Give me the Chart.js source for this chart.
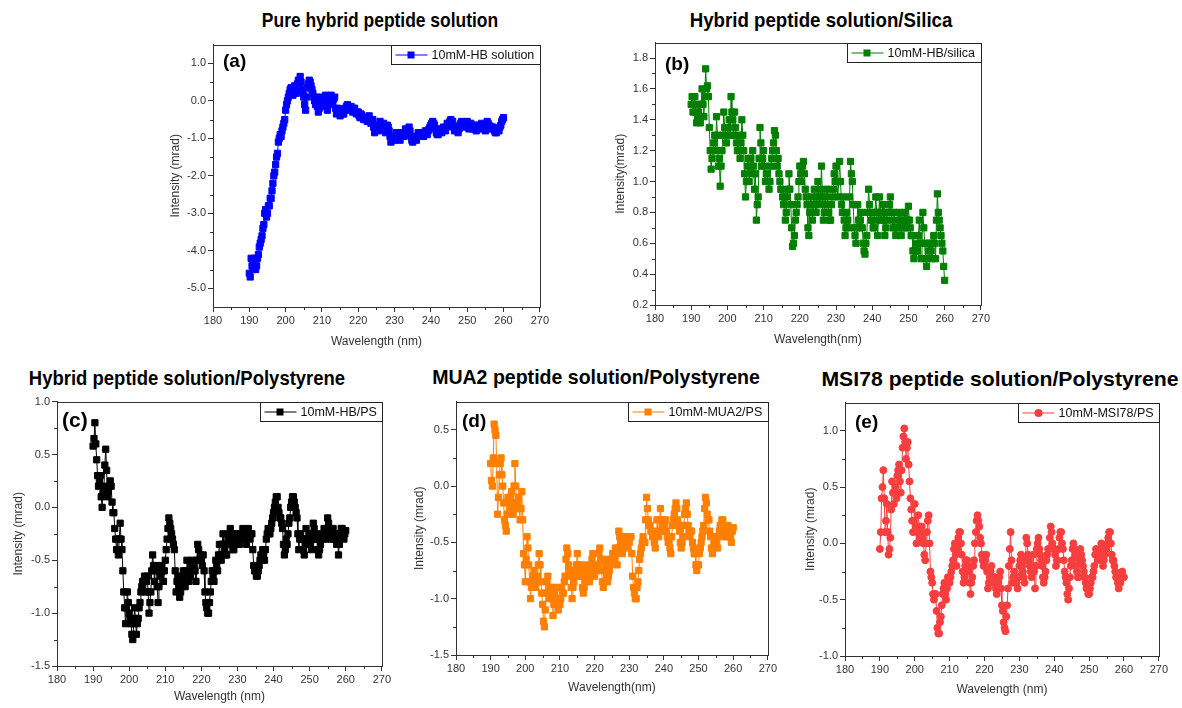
<!DOCTYPE html>
<html>
<head>
<meta charset="utf-8">
<script src="https://cdn.jsdelivr.net/npm/chart.js@4.4.1/dist/chart.umd.min.js"></script>
<style>
  html, body { margin: 0; padding: 0; background: #fff; }
  body { width: 1182px; height: 708px; position: relative; overflow: hidden; }
  .title { position: absolute; font-family: "Liberation Sans", Arial, sans-serif; font-weight: bold; font-size: 21px; white-space: nowrap; color: #000; }
  canvas { position: absolute; }
</style>
</head>
<body>
<div class="title" style="left:380px;top:20px;transform:translate(-50%,-50%) scaleX(0.83)">Pure hybrid peptide solution</div>
<div class="title" style="left:821px;top:20px;transform:translate(-50%,-50%) scaleX(0.89)">Hybrid peptide solution/Silica</div>
<div class="title" style="left:187px;top:378px;transform:translate(-50%,-50%) scaleX(0.88)">Hybrid peptide solution/Polystyrene</div>
<div class="title" style="left:596px;top:377px;transform:translate(-50%,-50%) scaleX(0.93)">MUA2 peptide solution/Polystyrene</div>
<div class="title" style="left:1000px;top:379px;transform:translate(-50%,-50%) scaleX(1.01)">MSI78 peptide solution/Polystyrene</div>

<canvas id="chA" width="383" height="313" style="left:168px;top:36px"></canvas>
<canvas id="chB" width="379" height="313" style="left:613px;top:34px"></canvas>
<canvas id="chC" width="382" height="311" style="left:11px;top:393px"></canvas>
<canvas id="chD" width="367" height="302" style="left:412px;top:393px"></canvas>
<canvas id="chE" width="367" height="303" style="left:803px;top:394px"></canvas>

<script>
// Longitudes de onda (nm), cada 0.25 nm
const wavelengths = [
  190, 190.25, 190.5, 190.75, 191, 191.25, 191.5, 191.75,
  192, 192.25, 192.5, 192.75, 193, 193.25, 193.5, 193.75,
  194, 194.25, 194.5, 194.75, 195, 195.25, 195.5, 195.75,
  196, 196.25, 196.5, 196.75, 197, 197.25, 197.5, 197.75,
  198, 198.25, 198.5, 198.75, 199, 199.25, 199.5, 199.75,
  200, 200.25, 200.5, 200.75, 201, 201.25, 201.5, 201.75,
  202, 202.25, 202.5, 202.75, 203, 203.25, 203.5, 203.75,
  204, 204.25, 204.5, 204.75, 205, 205.25, 205.5, 205.75,
  206, 206.25, 206.5, 206.75, 207, 207.25, 207.5, 207.75,
  208, 208.25, 208.5, 208.75, 209, 209.25, 209.5, 209.75,
  210, 210.25, 210.5, 210.75, 211, 211.25, 211.5, 211.75,
  212, 212.25, 212.5, 212.75, 213, 213.25, 213.5, 213.75,
  214, 214.25, 214.5, 214.75, 215, 215.25, 215.5, 215.75,
  216, 216.25, 216.5, 216.75, 217, 217.25, 217.5, 217.75,
  218, 218.25, 218.5, 218.75, 219, 219.25, 219.5, 219.75,
  220, 220.25, 220.5, 220.75, 221, 221.25, 221.5, 221.75,
  222, 222.25, 222.5, 222.75, 223, 223.25, 223.5, 223.75,
  224, 224.25, 224.5, 224.75, 225, 225.25, 225.5, 225.75,
  226, 226.25, 226.5, 226.75, 227, 227.25, 227.5, 227.75,
  228, 228.25, 228.5, 228.75, 229, 229.25, 229.5, 229.75,
  230, 230.25, 230.5, 230.75, 231, 231.25, 231.5, 231.75,
  232, 232.25, 232.5, 232.75, 233, 233.25, 233.5, 233.75,
  234, 234.25, 234.5, 234.75, 235, 235.25, 235.5, 235.75,
  236, 236.25, 236.5, 236.75, 237, 237.25, 237.5, 237.75,
  238, 238.25, 238.5, 238.75, 239, 239.25, 239.5, 239.75,
  240, 240.25, 240.5, 240.75, 241, 241.25, 241.5, 241.75,
  242, 242.25, 242.5, 242.75, 243, 243.25, 243.5, 243.75,
  244, 244.25, 244.5, 244.75, 245, 245.25, 245.5, 245.75,
  246, 246.25, 246.5, 246.75, 247, 247.25, 247.5, 247.75,
  248, 248.25, 248.5, 248.75, 249, 249.25, 249.5, 249.75,
  250, 250.25, 250.5, 250.75, 251, 251.25, 251.5, 251.75,
  252, 252.25, 252.5, 252.75, 253, 253.25, 253.5, 253.75,
  254, 254.25, 254.5, 254.75, 255, 255.25, 255.5, 255.75,
  256, 256.25, 256.5, 256.75, 257, 257.25, 257.5, 257.75,
  258, 258.25, 258.5, 258.75, 259, 259.25, 259.5, 259.75,
  260
];

// (a) 10mM-HB solution
const seriesA = [
  -4.6, -4.7, -4.2, -4.4, -4.5, -4.3, -4.2, -4.5,
  -4.4, -4.2, -4.1, -3.9, -3.8, -3.7, -3.6, -3.4,
  -3.3, -3.0, -2.9, -3.1, -3.0, -2.8, -2.8, -2.6,
  -2.6, -2.4, -2.2, -2.0, -1.9, -1.7, -1.5, -1.4,
  -1.1, -1.0, -0.9, -0.95, -0.8, -0.7, -0.6, -0.5,
  -0.25, -0.1, 0.0, 0.1, 0.2, 0.3, 0.35, 0.25,
  0.15, 0.3, 0.4, 0.2, 0.25, 0.45, 0.55, 0.5,
  0.65, 0.5, 0.3, 0.2, 0.1, -0.1, -0.25, 0.1,
  0.35, 0.45, 0.55, 0.5, 0.4, 0.3, 0.2, 0.1,
  0.0, -0.1, 0.1, -0.15, -0.3, -0.2, -0.1, 0.05,
  0.1, 0.0, -0.15, 0.05, 0.15, 0.0, -0.25, -0.1,
  0.0, 0.1, 0.15, 0.0, -0.1, 0.05, 0.1, -0.2,
  -0.35, -0.3, -0.2, -0.3, -0.4, -0.3, -0.25, -0.35,
  -0.35, -0.25, -0.2, -0.15, -0.1, -0.2, -0.25, -0.2,
  -0.15, -0.25, -0.3, -0.2, -0.2, -0.3, -0.35, -0.3,
  -0.3, -0.4, -0.45, -0.35, -0.4, -0.45, -0.5, -0.45,
  -0.45, -0.5, -0.55, -0.45, -0.4, -0.5, -0.6, -0.55,
  -0.5, -0.7, -0.85, -0.75, -0.65, -0.75, -0.8, -0.7,
  -0.55, -0.65, -0.75, -0.65, -0.6, -0.75, -0.85, -0.75,
  -0.65, -0.7, -0.8, -0.95, -1.1, -1.05, -0.95, -1.0,
  -1.05, -0.95, -0.85, -0.9, -0.95, -1.0, -1.05, -0.95,
  -0.85, -0.9, -0.95, -0.85, -0.75, -0.8, -0.9, -0.8,
  -0.7, -0.8, -0.95, -1.05, -1.1, -1.0, -0.95, -1.0,
  -1.05, -0.95, -0.85, -0.9, -0.95, -0.9, -0.85, -0.9,
  -0.95, -0.85, -0.8, -0.85, -0.9, -0.8, -0.75, -0.7,
  -0.65, -0.6, -0.55, -0.6, -0.65, -0.75, -0.85, -0.9,
  -0.9, -0.8, -0.75, -0.8, -0.85, -0.75, -0.7, -0.75,
  -0.8, -0.7, -0.6, -0.65, -0.65, -0.55, -0.5, -0.55,
  -0.55, -0.7, -0.8, -0.75, -0.7, -0.8, -0.85, -0.75,
  -0.65, -0.6, -0.55, -0.6, -0.6, -0.65, -0.7, -0.6,
  -0.55, -0.65, -0.75, -0.7, -0.6, -0.7, -0.75, -0.7,
  -0.65, -0.75, -0.8, -0.7, -0.65, -0.7, -0.75, -0.65,
  -0.6, -0.65, -0.7, -0.75, -0.8, -0.7, -0.55, -0.6,
  -0.65, -0.7, -0.75, -0.7, -0.7, -0.75, -0.8, -0.85,
  -0.85, -0.8, -0.75, -0.8, -0.7, -0.65, -0.55, -0.5,
  -0.45
];

// (b) 10mM-HB/silica
const seriesB = [
  1.5, 1.55, 1.45, 1.5, 1.55, 1.45, 1.38, 1.42,
  1.45, 1.5, 1.38, 1.5, 1.6, 1.5, 1.42, 1.55,
  1.73, 1.6, 1.62, 1.55, 1.35, 1.2, 1.08, 1.15,
  1.2, 1.25, 1.3, 1.2, 1.42, 1.3, 1.1, 1.15,
  0.97, 1.1, 1.2, 1.3, 1.45, 1.35, 1.3, 1.25,
  1.3, 1.35, 1.4, 1.3, 1.55, 1.45, 1.4, 1.3,
  1.45, 1.35, 1.25, 1.2, 1.3, 1.2, 1.15, 1.25,
  1.4, 1.3, 1.2, 1.05, 0.9, 1.0, 1.1, 1.15,
  1.0, 1.1, 1.15, 1.05, 1.2, 1.1, 0.95, 1.05,
  0.75, 0.85, 0.9, 1.15, 1.35, 1.25, 1.1, 1.15,
  1.2, 1.1, 1.0, 1.05, 1.05, 1.0, 0.95, 1.0,
  1.1, 1.15, 1.2, 1.25, 1.33, 1.3, 1.2, 1.1,
  1.15, 1.05, 1.0, 0.95, 0.95, 0.9, 0.85, 0.9,
  0.75, 0.8, 0.9, 0.95, 1.05, 0.95, 0.85, 0.7,
  0.58, 0.6, 0.65, 0.75, 0.8, 0.85, 0.9, 1.0,
  1.1, 1.05, 1.0, 1.1, 1.13, 1.05, 0.95, 0.9,
  0.85, 0.7, 0.65, 0.8, 0.9, 0.85, 0.75, 0.85,
  0.95, 0.85, 0.8, 0.9, 1.0, 0.9, 0.85, 0.95,
  1.1, 0.9, 0.75, 0.8, 0.85, 0.9, 0.95, 0.85,
  0.8, 0.75, 0.75, 0.85, 0.9, 0.95, 1.05, 1.0,
  1.1, 1.0, 0.9, 1.0, 1.13, 1.0, 0.85, 0.8,
  0.9, 0.75, 0.65, 0.7, 0.8, 0.75, 0.7, 0.9,
  1.13, 1.05, 1.0, 0.85, 0.7, 0.65, 0.6, 0.7,
  0.85, 0.75, 0.7, 0.75, 0.8, 0.7, 0.6, 0.55,
  0.53, 0.6, 0.65, 0.8, 0.95, 0.85, 0.8, 0.75,
  0.75, 0.7, 0.7, 0.8, 0.9, 0.8, 0.65, 0.75,
  0.9, 0.8, 0.75, 0.8, 0.85, 0.75, 0.65, 0.7,
  0.75, 0.8, 0.8, 0.85, 0.9, 0.8, 0.75, 0.7,
  0.8, 0.7, 0.65, 0.7, 0.7, 0.75, 0.8, 0.75,
  0.65, 0.7, 0.75, 0.7, 0.8, 0.75, 0.7, 0.75,
  0.84, 0.75, 0.7, 0.65, 0.65, 0.55, 0.5, 0.55,
  0.6, 0.55, 0.55, 0.65, 0.75, 0.6, 0.5, 0.6,
  0.8, 0.7, 0.6, 0.5, 0.45, 0.5, 0.55, 0.6,
  0.6, 0.55, 0.5, 0.6, 0.65, 0.6, 0.5, 0.75,
  0.92, 0.8, 0.75, 0.7, 0.65, 0.6, 0.55, 0.45,
  0.36
];

// (c) 10mM-HB/PS
const seriesC = [
  0.58, 0.65, 0.8, 0.6, 0.45, 0.3, 0.2, 0.25,
  0.3, 0.1, 0.0, 0.15, 0.2, 0.4, 0.55, 0.35,
  0.1, 0.15, 0.2, 0.25, 0.2, 0.05, -0.05, -0.05,
  -0.2, -0.3, -0.4, -0.3, -0.45, -0.3, -0.15, -0.3,
  -0.4, -0.6, -0.8, -0.95, -1.1, -0.95, -0.8, -0.9,
  -1.0, -1.05, -1.1, -1.2, -1.25, -1.1, -0.95, -1.05,
  -1.2, -1.1, -1.05, -0.95, -0.9, -0.8, -0.75, -0.7,
  -0.7, -0.65, -0.8, -0.7, -0.65, -0.8, -1.0, -0.9,
  -0.8, -0.6, -0.45, -0.55, -0.7, -0.6, -0.55, -0.75,
  -0.9, -0.75, -0.6, -0.65, -0.55, -0.6, -0.7, -0.6,
  -0.5, -0.4, -0.3, -0.2, -0.1, -0.15, -0.2, -0.25,
  -0.3, -0.35, -0.4, -0.6, -0.8, -0.7, -0.65, -0.75,
  -0.85, -0.8, -0.75, -0.7, -0.6, -0.65, -0.75, -0.6,
  -0.5, -0.6, -0.7, -0.65, -0.65, -0.55, -0.5, -0.6,
  -0.55, -0.6, -0.7, -0.5, -0.35, -0.4, -0.5, -0.45,
  -0.5, -0.55, -0.45, -0.6, -0.8, -0.9, -0.95, -1.0,
  -1.0, -0.9, -0.8, -0.7, -0.6, -0.65, -0.7, -0.6,
  -0.5, -0.55, -0.6, -0.45, -0.35, -0.45, -0.5, -0.35,
  -0.25, -0.35, -0.4, -0.45, -0.45, -0.35, -0.3, -0.25,
  -0.2, -0.3, -0.35, -0.4, -0.4, -0.35, -0.3, -0.25,
  -0.25, -0.3, -0.35, -0.3, -0.3, -0.25, -0.2, -0.25,
  -0.25, -0.3, -0.35, -0.25, -0.2, -0.25, -0.3, -0.25,
  -0.25, -0.4, -0.55, -0.6, -0.6, -0.65, -0.65, -0.6,
  -0.55, -0.5, -0.45, -0.5, -0.4, -0.45, -0.5, -0.4,
  -0.3, -0.25, -0.2, -0.25, -0.25, -0.2, -0.15, -0.1,
  -0.05, 0.0, 0.05, 0.1, 0.1, 0.0, -0.05, -0.1,
  -0.1, -0.15, -0.2, -0.35, -0.45, -0.4, -0.3, -0.35,
  -0.25, -0.15, -0.1, 0.0, 0.05, 0.1, 0.1, 0.05,
  0.0, -0.05, -0.1, -0.25, -0.4, -0.3, -0.25, -0.3,
  -0.3, -0.4, -0.45, -0.35, -0.2, -0.3, -0.35, -0.3,
  -0.25, -0.35, -0.4, -0.3, -0.15, -0.2, -0.3, -0.25,
  -0.3, -0.4, -0.45, -0.4, -0.35, -0.3, -0.25, -0.3,
  -0.2, -0.25, -0.3, -0.2, -0.1, -0.15, -0.2, -0.25,
  -0.3, -0.25, -0.2, -0.3, -0.25, -0.3, -0.35, -0.3,
  -0.45, -0.35, -0.25, -0.2, -0.2, -0.25, -0.3, -0.25,
  -0.22
];

// (d) 10mM-MUA2/PS
const seriesD = [
  0.2, 0.05, 0.0, 0.25, 0.55, 0.5, 0.45, 0.2,
  -0.25, -0.1, 0.1, 0.2, 0.25, 0.1, 0.0, -0.15,
  -0.3, -0.35, -0.4, -0.25, -0.1, -0.15, -0.2, -0.1,
  -0.05, -0.15, -0.25, 0.0, 0.2, 0.0, -0.2, -0.15,
  -0.1, -0.2, -0.3, -0.2, -0.05, -0.3, -0.6, -0.7,
  -0.85, -0.65, -0.45, -0.55, -0.7, -0.85, -1.0, -0.9,
  -0.85, -0.8, -0.75, -0.85, -0.9, -0.85, -0.8, -0.7,
  -0.6, -0.7, -0.85, -0.95, -1.05, -1.2, -1.25, -1.1,
  -0.95, -0.85, -0.8, -0.9, -1.0, -0.95, -0.9, -1.0,
  -1.15, -1.05, -0.95, -0.9, -0.9, -1.0, -1.1, -1.05,
  -1.05, -1.0, -0.9, -0.95, -0.95, -0.85, -0.8, -0.65,
  -0.55, -0.6, -0.7, -0.75, -0.8, -0.9, -1.0, -0.9,
  -0.85, -0.8, -0.75, -0.7, -0.6, -0.7, -0.8, -0.75,
  -0.7, -0.8, -0.9, -0.95, -0.9, -0.85, -0.8, -0.75,
  -0.7, -0.8, -0.85, -0.8, -0.75, -0.65, -0.6, -0.7,
  -0.8, -0.75, -0.7, -0.75, -0.7, -0.6, -0.55, -0.65,
  -0.75, -0.85, -0.9, -0.75, -0.65, -0.7, -0.8, -0.85,
  -0.8, -0.75, -0.7, -0.65, -0.65, -0.6, -0.6, -0.65,
  -0.55, -0.6, -0.7, -0.55, -0.4, -0.45, -0.5, -0.55,
  -0.6, -0.55, -0.5, -0.45, -0.45, -0.5, -0.55, -0.5,
  -0.5, -0.45, -0.45, -0.6, -0.8, -0.9, -0.95, -1.0,
  -1.0, -0.9, -0.85, -0.75, -0.65, -0.6, -0.55, -0.5,
  -0.45, -0.5, -0.5, -0.3, -0.1, -0.2, -0.3, -0.35,
  -0.35, -0.4, -0.4, -0.45, -0.45, -0.5, -0.55, -0.45,
  -0.3, -0.4, -0.45, -0.3, -0.2, -0.3, -0.35, -0.4,
  -0.4, -0.35, -0.3, -0.4, -0.45, -0.5, -0.5, -0.55,
  -0.6, -0.45, -0.35, -0.3, -0.25, -0.2, -0.15, -0.2,
  -0.3, -0.35, -0.4, -0.5, -0.55, -0.5, -0.45, -0.35,
  -0.25, -0.2, -0.15, -0.25, -0.35, -0.4, -0.45, -0.4,
  -0.4, -0.5, -0.55, -0.6, -0.6, -0.7, -0.75, -0.7,
  -0.7, -0.6, -0.55, -0.5, -0.45, -0.4, -0.35, -0.2,
  -0.1, -0.15, -0.25, -0.3, -0.3, -0.4, -0.45, -0.55,
  -0.6, -0.55, -0.5, -0.45, -0.45, -0.5, -0.55, -0.45,
  -0.4, -0.35, -0.35, -0.3, -0.3, -0.35, -0.4, -0.45,
  -0.45, -0.4, -0.35, -0.4, -0.4, -0.45, -0.5, -0.4,
  -0.37
];

// (e) 10mM-MSI78/PS
const seriesE = [
  -0.05, 0.1, 0.4, 0.5, 0.65, 0.4, 0.1, 0.2,
  0.35, 0.1, -0.1, -0.05, 0.05, 0.3, 0.55, 0.45,
  0.35, 0.45, 0.5, 0.4, 0.6, 0.65, 0.7, 0.55,
  0.45, 0.65, 0.85, 0.95, 1.02, 0.9, 0.75, 0.85,
  0.9, 0.7, 0.55, 0.4, 0.3, 0.2, 0.1, 0.2,
  0.35, 0.15, 0.0, 0.1, 0.25, 0.15, 0.05, 0.1,
  0.15, 0.05, 0.0, -0.1, -0.15, 0.0, 0.1, 0.2,
  0.25, 0.0, -0.25, -0.3, -0.35, -0.45, -0.5, -0.45,
  -0.45, -0.6, -0.75, -0.8, -0.8, -0.7, -0.65, -0.55,
  -0.45, -0.4, -0.35, -0.45, -0.5, -0.4, -0.3, -0.35,
  -0.35, -0.3, -0.25, -0.2, -0.15, -0.05, 0.0, -0.1,
  -0.2, -0.05, 0.05, 0.1, 0.1, 0.0, -0.1, -0.25,
  -0.35, -0.3, -0.2, -0.15, -0.15, -0.2, -0.25, -0.35,
  -0.45, -0.35, -0.3, -0.2, -0.15, 0.0, 0.1, 0.2,
  0.25, 0.2, 0.15, 0.05, 0.0, -0.1, -0.15, -0.2,
  -0.2, -0.15, -0.1, -0.25, -0.4, -0.35, -0.3, -0.25,
  -0.2, -0.3, -0.35, -0.3, -0.3, -0.4, -0.45, -0.4,
  -0.35, -0.3, -0.25, -0.4, -0.55, -0.6, -0.7, -0.75,
  -0.78, -0.65, -0.55, -0.4, -0.2, -0.05, 0.1, -0.15,
  -0.35, -0.3, -0.25, -0.3, -0.3, -0.35, -0.4, -0.3,
  -0.2, -0.15, -0.1, -0.2, -0.25, -0.3, -0.35, -0.15,
  0.05, 0.0, -0.1, -0.15, -0.2, -0.25, -0.3, -0.2,
  -0.1, -0.25, -0.4, -0.2, -0.05, 0.0, 0.05, -0.05,
  -0.1, -0.15, -0.2, -0.3, -0.35, -0.3, -0.25, -0.15,
  -0.1, -0.05, -0.05, 0.05, 0.15, 0.1, 0.0, -0.05,
  -0.05, -0.1, -0.2, -0.15, -0.15, -0.05, 0.05, 0.1,
  0.1, 0.0, -0.05, -0.15, -0.25, -0.3, -0.35, -0.45,
  -0.5, -0.4, -0.3, -0.2, -0.15, -0.05, 0.0, -0.05,
  -0.1, -0.2, -0.25, -0.3, -0.3, -0.15, -0.05, -0.1,
  -0.15, -0.2, -0.25, -0.3, -0.35, -0.4, -0.4, -0.45,
  -0.45, -0.4, -0.35, -0.3, -0.3, -0.25, -0.2, -0.1,
  -0.05, -0.1, -0.15, -0.1, -0.1, -0.05, 0.0, -0.1,
  -0.2, -0.15, -0.1, -0.05, -0.05, 0.0, 0.05, 0.1,
  0.1, 0.0, -0.1, -0.15, -0.15, -0.2, -0.25, -0.3,
  -0.3, -0.35, -0.4, -0.35, -0.35, -0.3, -0.25, -0.3,
  -0.3
];

// Marcas de los ejes
const xTicks = [180, 190, 200, 210, 220, 230, 240, 250, 260, 270];
const yTicksA = [-5, -4, -3, -2, -1, 0, 1];
const yTicksB = [0.2, 0.4, 0.6, 0.8, 1.0, 1.2, 1.4, 1.6, 1.8];
const yTicksC = [-1.5, -1.0, -0.5, 0.0, 0.5, 1.0];
const yTicksD = [-1.5, -1.0, -0.5, 0.0, 0.5];
const yTicksE = [-1.0, -0.5, 0.0, 0.5, 1.0];

const AXIS_COLOR = '#333';
const TICK_FONT = { family: '"Liberation Sans", Arial', size: 11 };
const TITLE_FONT = { family: '"Liberation Sans", Arial', size: 12 };

const panels = [
    { id: 'chA', label: '10mM-HB solution', letter: '(a)', values: seriesA, color: '#0000ff', point: 'rect',
      yMin: -5.5, yMax: 1.5, yTicks: yTicksA, yTitle: 'Intensity (mrad)', xTitle: 'Wavelength (nm)',
      yw: 45, xh: 42, letterDx: 10, letterDy: 8, letterFont: 'bold 19px "Liberation Sans", Arial' },
    { id: 'chB', label: '10mM-HB/silica', letter: '(b)', values: seriesB, color: '#007f00', point: 'rect',
      yMin: 0.2, yMax: 1.9, yTicks: yTicksB, yTitle: 'Intensity(mrad)', xTitle: 'Wavelength(nm)',
      yw: 42, xh: 42, letterDx: 10, letterDy: 13, letterFont: 'bold 19px "Liberation Sans", Arial' },
    { id: 'chC', label: '10mM-HB/PS', letter: '(c)', values: seriesC, color: '#000000', point: 'rect',
      yMin: -1.5, yMax: 1.0, yTicks: yTicksC, yTitle: 'Intensity (mrad)', xTitle: 'Wavelength (nm)',
      yw: 46, xh: 38, letterDx: 5, letterDy: 9, letterFont: 'bold 21px "Liberation Sans", Arial' },
    { id: 'chD', label: '10mM-MUA2/PS', letter: '(d)', values: seriesD, color: '#ff7f00', point: 'rect',
      yMin: -1.5, yMax: 0.75, yTicks: yTicksD, yTitle: 'Intensity (mrad)', xTitle: 'Wavelength(nm)',
      yw: 44, xh: 40, letterDx: 6, letterDy: 11, letterFont: 'bold 19px "Liberation Sans", Arial' },
    { id: 'chE', label: '10mM-MSI78/PS', letter: '(e)', values: seriesE, color: '#f73e3e', point: 'circle',
      yMin: -1.0, yMax: 1.25, yTicks: yTicksE, yTitle: 'Intensity (mrad)', xTitle: 'Wavelength (nm)',
      yw: 42, xh: 41, letterDx: 10, letterDy: 11, letterFont: 'bold 19px "Liberation Sans", Arial' }
];

// Marco, marcas menores, leyenda y letra del panel
const framePlugin = {
    id: 'frame',
    afterDraw(chart, args, opts) {
        const { ctx, chartArea: a, scales } = chart;
        const p = opts.panel;
        ctx.save();
        ctx.strokeStyle = AXIS_COLOR;
        ctx.lineWidth = 1;
        ctx.beginPath();
        // menores en x
        for (let i = 0; i < xTicks.length - 1; i++) {
            const px = Math.round(scales.x.getPixelForValue((xTicks[i] + xTicks[i + 1]) / 2)) + 0.5;
            ctx.moveTo(px, a.bottom);
            ctx.lineTo(px, a.bottom + 3);
        }
        // menores en y
        const yt = p.yTicks;
        const step = yt[1] - yt[0];
        const mids = [];
        for (let i = 0; i < yt.length - 1; i++) mids.push((yt[i] + yt[i + 1]) / 2);
        if (yt[0] - step / 2 > p.yMin + 1e-6) mids.push(yt[0] - step / 2);
        if (yt[yt.length - 1] + step / 2 < p.yMax - 1e-6) mids.push(yt[yt.length - 1] + step / 2);
        mids.forEach(v => {
            const py = Math.round(scales.y.getPixelForValue(v)) + 0.5;
            ctx.moveTo(a.left, py);
            ctx.lineTo(a.left - 3, py);
        });
        ctx.stroke();
        ctx.strokeRect(Math.round(a.left) + 0.5, Math.round(a.top) + 0.5, Math.round(a.width), Math.round(a.height));

        // letra
        ctx.fillStyle = '#000';
        ctx.font = p.letterFont;
        ctx.textBaseline = 'top';
        ctx.textAlign = 'left';
        ctx.fillText(p.letter, a.left + p.letterDx, a.top + p.letterDy);

        // leyenda
        ctx.font = '12.5px "Liberation Sans", Arial';
        const tw = ctx.measureText(p.label).width;
        const bw = Math.round(tw + 46), bh = 19;
        const bx = Math.round(a.right) - bw + 0.5, by = Math.round(a.top) + 0.5;
        ctx.fillStyle = '#fff';
        ctx.fillRect(bx, by, bw, bh);
        ctx.strokeStyle = '#222';
        ctx.strokeRect(bx, by, bw, bh);
        const my = by + bh / 2;
        ctx.strokeStyle = p.color;
        ctx.beginPath();
        ctx.moveTo(bx + 4, my);
        ctx.lineTo(bx + 36, my);
        ctx.stroke();
        ctx.fillStyle = p.color;
        if (p.point === 'circle') {
            ctx.beginPath();
            ctx.arc(bx + 20, my, 4, 0, Math.PI * 2);
            ctx.fill();
        } else {
            ctx.fillRect(bx + 16, my - 3.5, 7, 7);
        }
        ctx.fillStyle = '#111';
        ctx.textBaseline = 'middle';
        ctx.fillText(p.label, bx + 40, my + 0.5);
        ctx.restore();
    }
};

panels.forEach(p => {
    new Chart(document.getElementById(p.id), {
        type: 'line',
        data: {
            datasets: [{
                label: p.label,
                data: wavelengths.map((x, i) => ({ x: x, y: p.values[i] })),
                borderColor: p.color,
                backgroundColor: p.color,
                borderWidth: 1,
                pointStyle: p.point,
                pointRadius: p.point === 'circle' ? 3.5 : 4.4,
                pointBorderWidth: 1,
                pointBackgroundColor: p.color,
                pointBorderColor: p.color,
                tension: 0
            }]
        },
        options: {
            responsive: false,
            animation: false,
            layout: { padding: { top: 4, right: 4, left: 0, bottom: 0 } },
            plugins: {
                legend: { display: false },
                tooltip: { enabled: false },
                frame: { panel: p }
            },
            scales: {
                x: {
                    type: 'linear',
                    min: 180,
                    max: 270,
                    afterBuildTicks: s => { s.ticks = xTicks.map(v => ({ value: v })); },
                    afterFit: s => { s.height = p.xh; },
                    grid: { drawOnChartArea: false, drawTicks: true, tickLength: 5, color: AXIS_COLOR },
                    border: { color: AXIS_COLOR, width: 1 },
                    ticks: { font: TICK_FONT, color: '#333', padding: 2, maxRotation: 0, autoSkip: false },
                    title: { display: true, text: p.xTitle, font: TITLE_FONT, color: '#333', padding: 0 }
                },
                y: {
                    type: 'linear',
                    min: p.yMin,
                    max: p.yMax,
                    afterBuildTicks: s => { s.ticks = p.yTicks.map(v => ({ value: v })); },
                    afterFit: s => { s.width = p.yw; },
                    grid: { drawOnChartArea: false, drawTicks: true, tickLength: 5, color: AXIS_COLOR },
                    border: { color: AXIS_COLOR, width: 1 },
                    ticks: { font: TICK_FONT, color: '#333', padding: 2, callback: v => v.toFixed(1) },
                    title: { display: true, text: p.yTitle, font: TITLE_FONT, color: '#333', padding: 0 }
                }
            }
        },
        plugins: [framePlugin]
    });
});
</script>
</body>
</html>
